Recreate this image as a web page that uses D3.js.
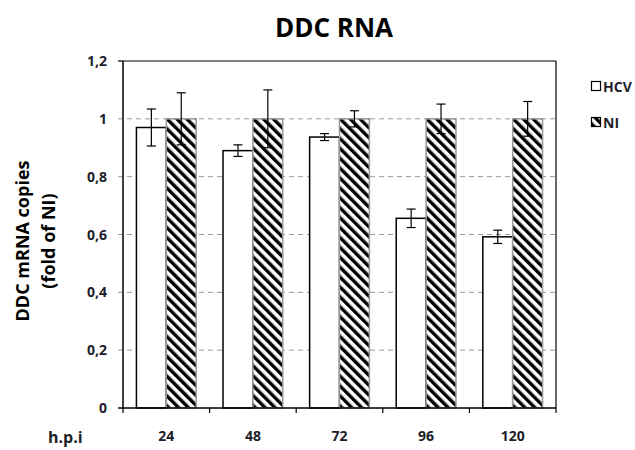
<!DOCTYPE html>
<html><head><meta charset="utf-8">
<script src="https://cdn.jsdelivr.net/npm/d3@7"></script>
<style>body{margin:0;background:#fff}svg{display:block}text{font-family:"Open Sans",sans-serif;font-weight:bold}</style>
</head><body><svg id="c" width="635" height="450"></svg>
<script>
const categories = ["24","48","72","96","120"];
const hcv = [0.97, 0.89, 0.937, 0.656, 0.592];
const hcvErr = [0.064, 0.02, 0.012, 0.032, 0.023];
const ni = [1, 1, 1, 1, 1];
const niErr = [0.09, 0.1, 0.028, 0.051, 0.06];
const yTicks = [0, 0.2, 0.4, 0.6, 0.8, 1, 1.2];
const yTickLabels = ["0","0,2","0,4","0,6","0,8","1","1,2"];
const seriesNames = ["HCV","NI"];

const svg = d3.select("#c");
const m = {l:123, r:79, t:61, b:42};
const W = 635 - m.l - m.r, H = 450 - m.t - m.b;
const g = svg.append("g").attr("transform",`translate(${m.l},${m.t})`);

const defs = svg.append("defs");
const pat = defs.append("pattern").attr("id","hatch").attr("patternUnits","userSpaceOnUse")
  .attr("width",7).attr("height",7).attr("patternTransform","rotate(-45)");
pat.append("rect").attr("width",7).attr("height",7).attr("fill","#fff");
pat.append("rect").attr("x",0).attr("y",0).attr("width",3.4).attr("height",7).attr("fill","#000");

const x = d3.scaleBand().domain(categories).range([0,W]).paddingInner(0.31).paddingOuter(0.155);
const xs = d3.scaleBand().domain(seriesNames).range([0,x.bandwidth()]);
const y = d3.scaleLinear().domain([0,1.2]).range([H,0]);

// grid
g.selectAll(".grid").data(yTicks.filter(d=>d>0 && d<1.2)).enter().append("line")
  .attr("x1",-5).attr("x2",W).attr("y1",d=>y(d)).attr("y2",d=>y(d))
  .attr("stroke","#999").attr("stroke-width",1).attr("stroke-dasharray","5,4");

// y labels
g.selectAll(".yl").data(yTicks).enter().append("text")
  .attr("x",-16).attr("y",d=>y(d)).attr("dy","0.36em").attr("text-anchor","end")
  .attr("font-size",14).attr("fill","#1e1e2a").text((d,i)=>yTickLabels[i]);

// bars
const grp = g.selectAll(".grp").data(categories).enter().append("g")
  .attr("transform",d=>`translate(${x(d)},0)`);
grp.append("rect").attr("x",xs("HCV")).attr("width",xs.bandwidth())
  .attr("y",(d,i)=>y(hcv[i])).attr("height",(d,i)=>H-y(hcv[i]))
  .attr("fill","#fff").attr("stroke","#000").attr("stroke-width",1.5);
grp.append("rect").attr("x",xs("NI")).attr("width",xs.bandwidth())
  .attr("y",(d,i)=>y(ni[i])).attr("height",(d,i)=>H-y(ni[i]))
  .attr("fill","url(#hatch)").attr("stroke","#999").attr("stroke-width",1.5);

function errBars(sel, vals, errs, key){
  const cx = xs(key)+xs.bandwidth()/2;
  sel.append("line").attr("x1",cx).attr("x2",cx)
    .attr("y1",(d,i)=>y(vals[i]+errs[i])).attr("y2",(d,i)=>y(vals[i]-errs[i]))
    .attr("stroke","#000").attr("stroke-width",1.2);
  [1,-1].forEach(s=>{
    sel.append("line").attr("x1",cx-4.5).attr("x2",cx+4.5)
      .attr("y1",(d,i)=>y(vals[i]+s*errs[i])).attr("y2",(d,i)=>y(vals[i]+s*errs[i]))
      .attr("stroke","#000").attr("stroke-width",1.2);
  });
}
errBars(grp, hcv, hcvErr, "HCV");
errBars(grp, ni, niErr, "NI");

// frame
g.append("line").attr("x1",W).attr("x2",W).attr("y1",0).attr("y2",H).attr("stroke","#000").attr("stroke-width",1.2);
g.append("line").attr("x1",0).attr("x2",W).attr("y1",0).attr("y2",0).attr("stroke","#000").attr("stroke-width",1.2);
g.append("line").attr("x1",0).attr("x2",0).attr("y1",0).attr("y2",H).attr("stroke","#000").attr("stroke-width",1.5);
g.append("line").attr("x1",-5).attr("x2",W).attr("y1",H).attr("y2",H).attr("stroke","#000").attr("stroke-width",1.5);
g.append("line").attr("x1",-5).attr("x2",0).attr("y1",0).attr("y2",0).attr("stroke","#000").attr("stroke-width",1.2);
// x ticks at band boundaries
const bounds = categories.map(c=>x(c)-x.step()*x.paddingInner()/2).concat([W]);
bounds[0]=0;
g.selectAll(".xt").data(bounds).enter().append("line")
  .attr("x1",d=>d).attr("x2",d=>d).attr("y1",H).attr("y2",H+5).attr("stroke","#000").attr("stroke-width",1.2);
g.selectAll(".xl").data(categories).enter().append("text")
  .attr("x",d=>x(d)+x.bandwidth()/2).attr("y",H+33).attr("text-anchor","middle")
  .attr("font-size",14).attr("fill","#1e1e2a").text(d=>d);

// titles
svg.append("text").attr("x",334).attr("y",37).attr("text-anchor","middle").attr("font-size",26).attr("fill","#000").text("DDC RNA");
const yt = svg.append("text").attr("transform","translate(0,241) rotate(-90)").attr("text-anchor","middle").attr("font-size",18).attr("fill","#000");
yt.append("tspan").attr("x",0).attr("y",29).text("DDC mRNA copies");
yt.append("tspan").attr("x",0).attr("y",55).text("(fold of NI)");
svg.append("text").attr("x",48).attr("y",443).attr("font-size",16).attr("fill","#1e1e2a").text("h.p.i");

// legend
const lg = svg.append("g");
seriesNames.forEach((s,i)=>{
  const yy = 81 + i*36;
  lg.append("rect").attr("x",591.5).attr("y",yy+0.5).attr("width",9).attr("height",9)
    .attr("fill", i===0?"#fff":"url(#hatch)").attr("stroke","#000").attr("stroke-width",1.2);
  lg.append("text").attr("x",603).attr("y",yy+10.5).attr("font-size",14).attr("fill","#1e1e2a").text(s);
});
</script></body></html>
